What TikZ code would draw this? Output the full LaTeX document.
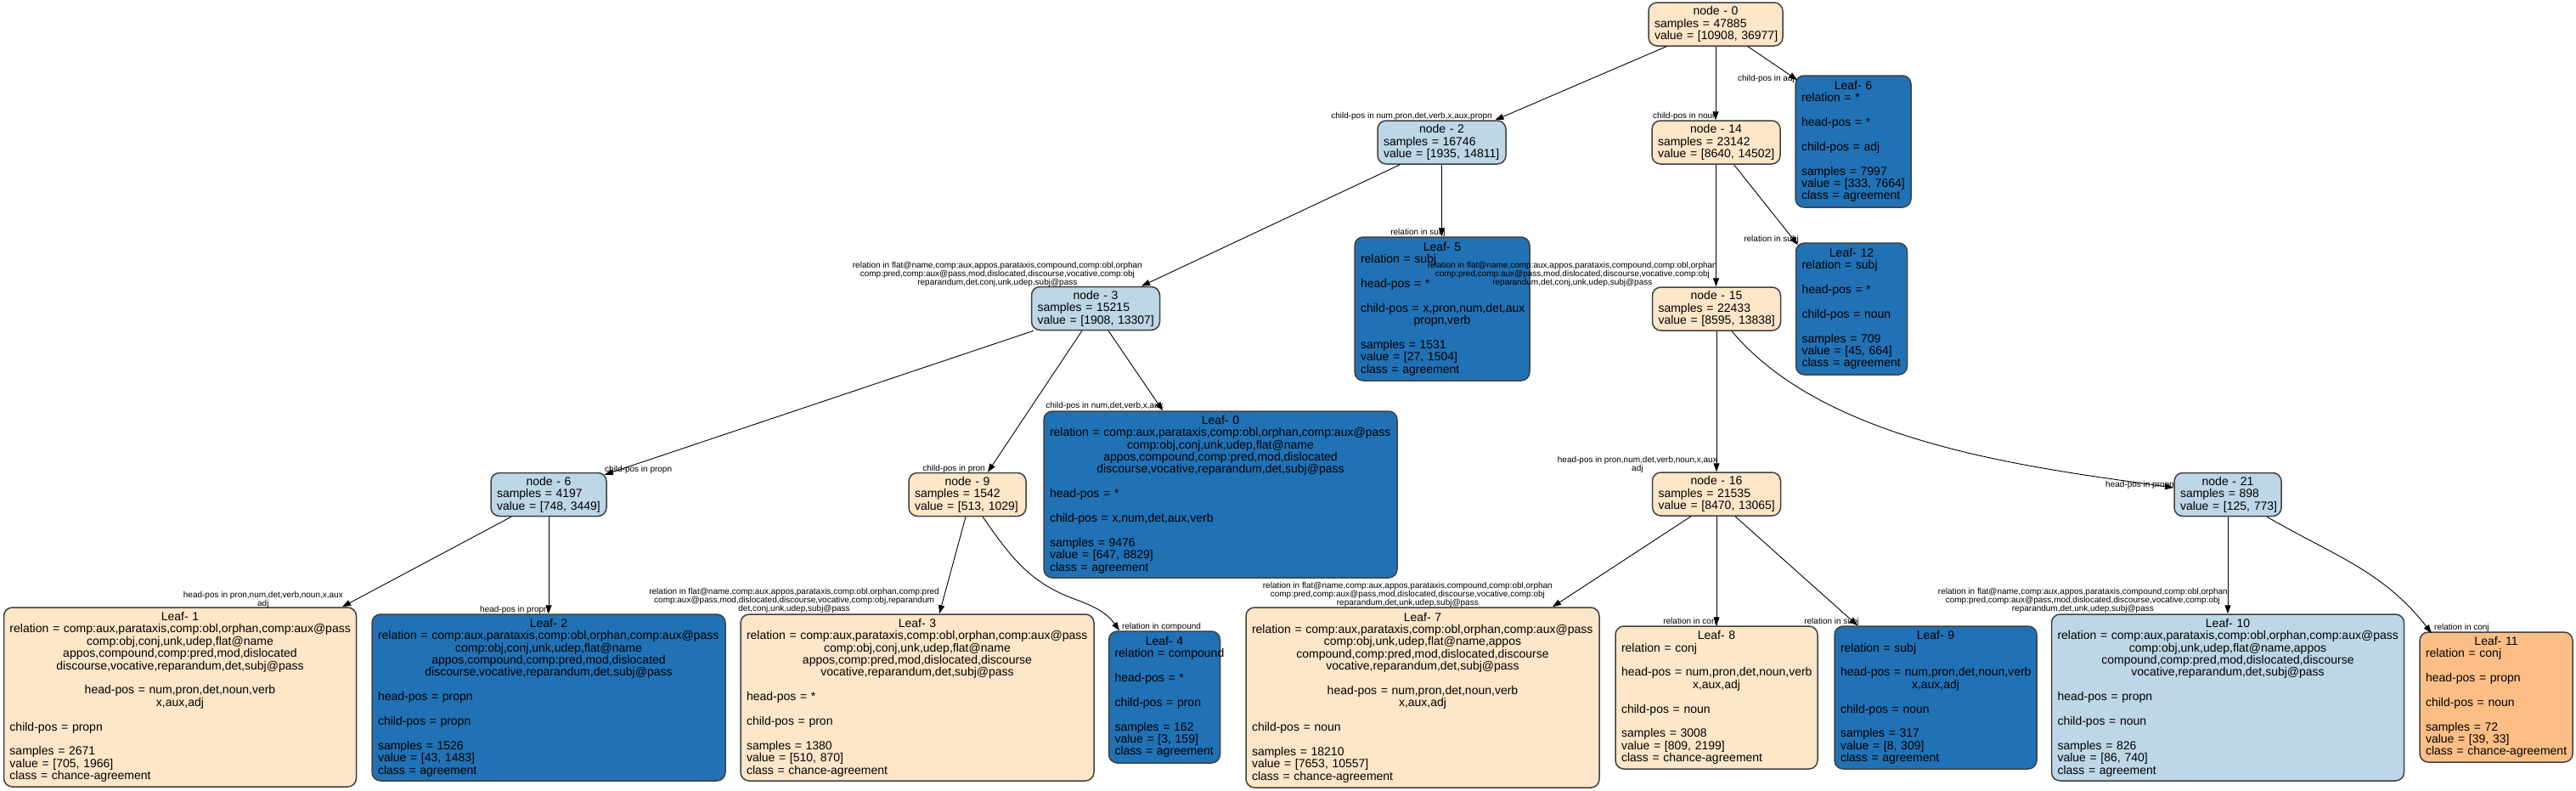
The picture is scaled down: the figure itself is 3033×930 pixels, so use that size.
\documentclass[tikz,border=0pt]{standalone}
\usepackage{fontspec}
\setmainfont{Liberation Sans}
\usetikzlibrary{arrows.meta}
\definecolor{cpeach}{HTML}{FEE6C8}
\definecolor{clblue}{HTML}{BDD7E7}
\definecolor{cdblue}{HTML}{2171B5}
\definecolor{corange}{HTML}{FDBE85}
\newcommand\Lc[1]{\leavevmode\hbox to\linewidth{\hss#1\hss}\par}
\newcommand\Ll[1]{\leavevmode\hbox to\linewidth{#1\hss}\par}
\newcommand\Lb{\leavevmode\hbox{}\par}
\tikzset{
  tnode/.style={draw=black!75, line width=1.5pt, rounded corners=10pt,
    inner xsep=7pt, inner ysep=0pt, font=\fontsize{14}{14.4}\selectfont},
  elab/.style={inner sep=0pt, align=center, font=\fontsize{10}{10}\selectfont},
  conn/.style={-{Triangle[length=10pt,width=7pt]}, line width=0.9pt, black},
}
\begin{document}
\begin{tikzpicture}[x=1pt,y=-1pt]
\fill[white] (0,0) rectangle (3033,930);
\useasboundingbox (0,0) rectangle (3033,930);

% ---------- nodes ----------
\node[tnode, fill=cpeach, text width=144pt, minimum height=51pt] (n0) at (2020,28.5)
 {\Lc{node - 0}\Ll{samples = 47885}\Ll{value = [10908, 36977]}};
\node[tnode, fill=clblue, text width=137pt, minimum height=51pt] (n2) at (1697.5,167.5)
 {\Lc{node - 2}\Ll{samples = 16746}\Ll{value = [1935, 14811]}};
\node[tnode, fill=cpeach, text width=137pt, minimum height=51pt] (n14) at (2020.5,167.5)
 {\Lc{node - 14}\Ll{samples = 23142}\Ll{value = [8640, 14502]}};
\node[tnode, fill=cdblue, text width=122pt, minimum height=155pt] (L6) at (2182,166.5)
 {\Lc{Leaf- 6}\Ll{relation = *}\Lb\Ll{head-pos = *}\Lb\Ll{child-pos = adj}\Lb
  \Ll{samples = 7997}\Ll{value = [333, 7664]}\Ll{class = agreement}};
\node[tnode, fill=cdblue, text width=192pt, minimum height=169pt] (L5) at (1698,363.5)
 {\Lc{Leaf- 5}\Ll{relation = subj}\Lb\Ll{head-pos = *}\Lb\Ll{child-pos = x,pron,num,det,aux}\Lc{propn,verb}\Lb
  \Ll{samples = 1531}\Ll{value = [27, 1504]}\Ll{class = agreement}};
\node[tnode, fill=cdblue, text width=117pt, minimum height=155pt] (L12) at (2180,363.5)
 {\Lc{Leaf- 12}\Ll{relation = subj}\Lb\Ll{head-pos = *}\Lb\Ll{child-pos = noun}\Lb
  \Ll{samples = 709}\Ll{value = [45, 664]}\Ll{class = agreement}};
\node[tnode, fill=clblue, text width=137pt, minimum height=51pt] (n3) at (1290,363)
 {\Lc{node - 3}\Ll{samples = 15215}\Ll{value = [1908, 13307]}};
\node[tnode, fill=cpeach, text width=137pt, minimum height=51pt] (n15) at (2021,363.5)
 {\Lc{node - 15}\Ll{samples = 22433}\Ll{value = [8595, 13838]}};
\node[tnode, fill=cdblue, text width=402pt, minimum height=196pt] (L0) at (1437,582)
 {\Lc{Leaf- 0}\Ll{relation = comp:aux,parataxis,comp:obl,orphan,comp:aux@pass}
  \Lc{comp:obj,conj,unk,udep,flat@name}\Lc{appos,compound,comp:pred,mod,dislocated}
  \Lc{discourse,vocative,reparandum,det,subj@pass}\Lb\Ll{head-pos = *}\Lb
  \Ll{child-pos = x,num,det,aux,verb}\Lb\Ll{samples = 9476}\Ll{value = [647, 8829]}\Ll{class = agreement}};
\node[tnode, fill=clblue, text width=122pt, minimum height=51pt] (n6) at (646,582)
 {\Lc{node - 6}\Ll{samples = 4197}\Ll{value = [748, 3449]}};
\node[tnode, fill=cpeach, text width=124pt, minimum height=51pt] (n9) at (1139,582)
 {\Lc{node - 9}\Ll{samples = 1542}\Ll{value = [513, 1029]}};
\node[tnode, fill=cpeach, text width=137pt, minimum height=51pt] (n16) at (2021,581.5)
 {\Lc{node - 16}\Ll{samples = 21535}\Ll{value = [8470, 13065]}};
\node[tnode, fill=clblue, text width=112pt, minimum height=51pt] (n21) at (2623,582)
 {\Lc{node - 21}\Ll{samples = 898}\Ll{value = [125, 773]}};
\node[tnode, fill=cpeach, text width=401pt, minimum height=211pt] (L1) at (212,820.5)
 {\Lc{Leaf- 1}\Ll{relation = comp:aux,parataxis,comp:obl,orphan,comp:aux@pass}
  \Lc{comp:obj,conj,unk,udep,flat@name}\Lc{appos,compound,comp:pred,mod,dislocated}
  \Lc{discourse,vocative,reparandum,det,subj@pass}\Lb\Lc{head-pos = num,pron,det,noun,verb}\Lc{x,aux,adj}\Lb
  \Ll{child-pos = propn}\Lb\Ll{samples = 2671}\Ll{value = [705, 1966]}\Ll{class = chance-agreement}};
\node[tnode, fill=cdblue, text width=402pt, minimum height=196pt] (L2) at (646,821)
 {\Lc{Leaf- 2}\Ll{relation = comp:aux,parataxis,comp:obl,orphan,comp:aux@pass}
  \Lc{comp:obj,conj,unk,udep,flat@name}\Lc{appos,compound,comp:pred,mod,dislocated}
  \Lc{discourse,vocative,reparandum,det,subj@pass}\Lb\Ll{head-pos = propn}\Lb
  \Ll{child-pos = propn}\Lb\Ll{samples = 1526}\Ll{value = [43, 1483]}\Ll{class = agreement}};
\node[tnode, fill=cpeach, text width=402pt, minimum height=196pt] (L3) at (1080,821)
 {\Lc{Leaf- 3}\Ll{relation = comp:aux,parataxis,comp:obl,orphan,comp:aux@pass}
  \Lc{comp:obj,conj,unk,udep,flat@name}\Lc{appos,comp:pred,mod,dislocated,discourse}
  \Lc{vocative,reparandum,det,subj@pass}\Lb\Ll{head-pos = *}\Lb
  \Ll{child-pos = pron}\Lb\Ll{samples = 1380}\Ll{value = [510, 870]}\Ll{class = chance-agreement}};
\node[tnode, fill=cdblue, text width=117pt, minimum height=155pt] (L4) at (1371,820.5)
 {\Lc{Leaf- 4}\Ll{relation = compound}\Lb\Ll{head-pos = *}\Lb\Ll{child-pos = pron}\Lb
  \Ll{samples = 162}\Ll{value = [3, 159]}\Ll{class = agreement}};
\node[tnode, fill=cpeach, text width=402pt, minimum height=212pt] (L7) at (1675,821)
 {\Lc{Leaf- 7}\Ll{relation = comp:aux,parataxis,comp:obl,orphan,comp:aux@pass}
  \Lc{comp:obj,unk,udep,flat@name,appos}\Lc{compound,comp:pred,mod,dislocated,discourse}
  \Lc{vocative,reparandum,det,subj@pass}\Lb\Lc{head-pos = num,pron,det,noun,verb}\Lc{x,aux,adj}\Lb
  \Ll{child-pos = noun}\Lb\Ll{samples = 18210}\Ll{value = [7653, 10557]}\Ll{class = chance-agreement}};
\node[tnode, fill=cpeach, text width=224pt, minimum height=168pt] (L8) at (2021,821)
 {\Lc{Leaf- 8}\Ll{relation = conj}\Lb\Ll{head-pos = num,pron,det,noun,verb}\Lc{x,aux,adj}\Lb
  \Ll{child-pos = noun}\Lb\Ll{samples = 3008}\Ll{value = [809, 2199]}\Ll{class = chance-agreement}};
\node[tnode, fill=cdblue, text width=224pt, minimum height=168pt] (L9) at (2279,821)
 {\Lc{Leaf- 9}\Ll{relation = subj}\Lb\Ll{head-pos = num,pron,det,noun,verb}\Lc{x,aux,adj}\Lb
  \Ll{child-pos = noun}\Lb\Ll{samples = 317}\Ll{value = [8, 309]}\Ll{class = agreement}};
\node[tnode, fill=clblue, text width=401pt, minimum height=196pt] (L10) at (2623,821)
 {\Lc{Leaf- 10}\Ll{relation = comp:aux,parataxis,comp:obl,orphan,comp:aux@pass}
  \Lc{comp:obj,unk,udep,flat@name,appos}\Lc{compound,comp:pred,mod,dislocated,discourse}
  \Lc{vocative,reparandum,det,subj@pass}\Lb\Ll{head-pos = propn}\Lb
  \Ll{child-pos = noun}\Lb\Ll{samples = 826}\Ll{value = [86, 740]}\Ll{class = agreement}};
\node[tnode, fill=corange, text width=166pt, minimum height=153pt] (L11) at (2939,820.5)
 {\Lc{Leaf- 11}\Ll{relation = conj}\Lb\Ll{head-pos = propn}\Lb\Ll{child-pos = noun}\Lb
  \Ll{samples = 72}\Ll{value = [39, 33]}\Ll{class = chance-agreement}};

% ---------- edge labels ----------
\node[elab, anchor=east] (lb2) at (1757,137) {child-pos in num,pron,det,verb,x,aux,propn};
\node[elab, anchor=east] (lb14) at (2022,137) {child-pos in noun};
\node[elab, anchor=east] (lb6) at (2113,93) {child-pos in adj};
\node[elab, anchor=east] (lb3) at (1345,323) {relation in flat@name,comp:aux,appos,parataxis,compound,comp:obl,orphan\\comp:pred,comp:aux@pass,mod,dislocated,discourse,vocative,comp:obj\\reparandum,det,conj,unk,udep,subj@pass};
\node[elab, anchor=east] (lb5) at (1702,274) {relation in subj};
\node[elab, anchor=east] (lb15) at (2022,323) {relation in flat@name,comp:aux,appos,parataxis,compound,comp:obl,orphan\\comp:pred,comp:aux@pass,mod,dislocated,discourse,vocative,comp:obj\\reparandum,det,conj,unk,udep,subj@pass};
\node[elab, anchor=east] (lb12) at (2118,282) {relation in subj};
\node[elab, anchor=east] (lb0) at (1370,478) {child-pos in num,det,verb,x,aux};
\node[elab, anchor=west] (lbn6) at (712,553) {child-pos in propn};
\node[elab, anchor=east] (lb9) at (1160,552) {child-pos in pron};
\node[elab, anchor=east] (lb16) at (2022,547) {head-pos in pron,num,det,verb,noun,x,aux\\adj};
\node[elab, anchor=east] (lb21) at (2560,571) {head-pos in propn};
\node[elab, anchor=east] (lbL1) at (404,706) {head-pos in pron,num,det,verb,noun,x,aux\\adj};
\node[elab, anchor=east] (lbL2) at (646,718) {head-pos in propn};
\node[elab, anchor=east] (lbL3) at (1106,707) {relation in flat@name,comp:aux,appos,parataxis,comp:obl,orphan,comp:pred\\comp:aux@pass,mod,dislocated,discourse,vocative,comp:obj,reparandum\\det,conj,unk,udep,subj@pass};
\node[elab, anchor=west] (lbL4) at (1321,738) {relation in compound};
\node[elab, anchor=east] (lbL7) at (1828,700) {relation in flat@name,comp:aux,appos,parataxis,compound,comp:obl,orphan\\comp:pred,comp:aux@pass,mod,dislocated,discourse,vocative,comp:obj\\reparandum,det,unk,udep,subj@pass};
\node[elab, anchor=east] (lbL8) at (2023,732) {relation in conj};
\node[elab, anchor=east] (lbL9) at (2189,732) {relation in subj};
\node[elab, anchor=east] (lbL10) at (2623,707) {relation in flat@name,comp:aux,appos,parataxis,compound,comp:obl,orphan\\comp:pred,comp:aux@pass,mod,dislocated,discourse,vocative,comp:obj\\reparandum,det,unk,udep,subj@pass};
\node[elab, anchor=west] (lbL11) at (2866,739) {relation in conj};

% ---------- connectors ----------
\draw[conn] ([xshift=-58pt]n0.south) -- ([xshift=63pt]n2.north);
\draw[conn] (n0.south) -- (n0.south |- n14.north);
\draw[conn] ([xshift=38pt]n0.south) -- ([xshift=3pt,yshift=-6pt]L6.north west);
\draw[conn] ([xshift=-49pt]n2.south) -- ([xshift=54pt]n3.north);
\draw[conn] (n2.south) -- (n2.south |- L5.north);
\draw[conn] (n14.south) -- (n14.south |- n15.north);
\draw[conn] ([xshift=21pt]n14.south) -- ([xshift=3pt,yshift=-3pt]L12.north west);
\draw[conn] ([xshift=-73pt]n3.south) -- ([xshift=-3pt,yshift=-3pt]n6.north east);
\draw[conn] ([xshift=-16pt]n3.south) -- ([xshift=24pt]n9.north);
\draw[conn] ([xshift=15pt]n3.south) -- ([xshift=-68pt]L0.north);
\draw[conn] (n15.south) -- (n15.south |- n16.north);
\draw[conn] ([xshift=18pt]n15.south) to[out=-50,in=172,looseness=0.8] ([yshift=8pt]n21.west);
\draw[conn] ([xshift=-44pt]n6.south) -- ([xshift=191pt]L1.north);
\draw[conn] (n6.south) -- (n6.south |- L2.north);
\draw[conn] ([xshift=-2pt]n9.south) -- ([xshift=26pt]L3.north);
\draw[conn] ([xshift=18pt]n9.south) to[out=-55,in=160] (1265,705) to[out=-20,in=125] ([xshift=-53pt]L4.north);
\draw[conn] ([xshift=-30pt]n16.south) -- ([xshift=153pt]L7.north);
\draw[conn] (n16.south) -- (n16.south |- L8.north);
\draw[conn] ([xshift=22pt]n16.south) -- ([xshift=-92pt]L9.north);
\draw[conn] (n21.south) -- (n21.south |- L10.north);
\draw[conn] ([xshift=46pt]n21.south) to[out=-30,in=128] ([xshift=-76pt,yshift=-2pt]L11.north);
\end{tikzpicture}
\end{document}
